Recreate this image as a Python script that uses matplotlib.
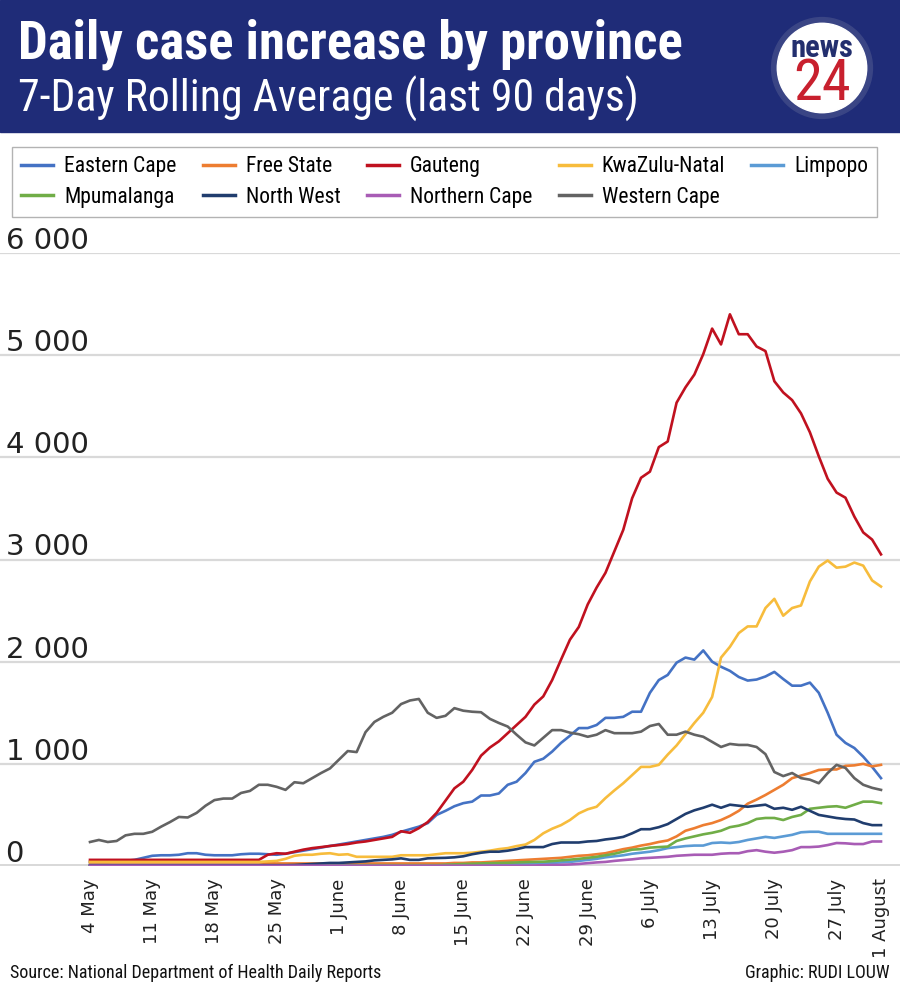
import matplotlib.pyplot as plt
import numpy as np
from matplotlib import font_manager
from matplotlib.patches import Rectangle, Circle

# fonts: try to find a condensed face for the header/legend
names = {f.name for f in font_manager.fontManager.ttflist}
COND = 'DejaVu Sans'
for cand in ['Roboto Condensed', 'Liberation Sans Narrow', 'Open Sans Condensed', 'Noto Sans Condensed']:
    if cand in names:
        COND = cand
        break
plt.rcParams['font.family'] = [COND, 'DejaVu Sans']

# data: 7-day rolling average, 4 May .. 1 August (90 days)
eastern_cape = [40, 40, 40, 45, 50, 60, 80, 100, 105, 105,
                110, 125, 125, 110, 105, 105, 105, 115, 120, 120,
                115, 110, 120, 135, 150, 165, 180, 196, 210, 225,
                240, 255, 270, 285, 305, 335, 360, 385, 420, 500,
                540, 585, 615, 630, 690, 690, 710, 795, 825, 910,
                1020, 1050, 1120, 1205, 1275, 1350, 1350, 1380, 1450, 1450,
                1460, 1510, 1510, 1695, 1820, 1870, 1990, 2040, 2020, 2110,
                2000, 1950, 1910, 1850, 1815, 1825, 1855, 1900, 1830, 1765,
                1765, 1795, 1695, 1500, 1285, 1205, 1155, 1070, 970, 860]
free_state = [35, 35, 35, 35, 35, 35, 35, 35, 35, 35,
              35, 35, 35, 35, 35, 35, 35, 35, 35, 35,
              30, 25, 25, 25, 25, 25, 25, 25, 25, 25,
              25, 25, 25, 25, 25, 25, 25, 25, 25, 25,
              25, 30, 30, 35, 35, 40, 45, 50, 55, 60,
              65, 70, 75, 80, 90, 100, 105, 115, 125, 145,
              165, 180, 200, 215, 235, 250, 290, 345, 370, 400,
              420, 450, 490, 540, 610, 650, 695, 745, 795, 860,
              885, 910, 940, 945, 945, 980, 985, 1000, 975, 990]
gauteng = [60, 60, 60, 60, 60, 60, 60, 60, 60, 60,
           60, 60, 60, 60, 60, 60, 60, 60, 60, 60,
           110, 125, 120, 140, 160, 175, 185, 196, 205, 215,
           230, 240, 255, 270, 285, 340, 325, 370, 430, 520,
           640, 760, 825, 940, 1080, 1160, 1220, 1300, 1380, 1460,
           1580, 1660, 1820, 2020, 2215, 2340, 2560, 2725, 2870, 3080,
           3290, 3600, 3800, 3860, 4100, 4155, 4535, 4685, 4810, 5010,
           5260, 5105, 5400, 5205, 5205, 5085, 5040, 4745, 4635, 4560,
           4430, 4245, 4010, 3790, 3655, 3605, 3420, 3265, 3195, 3050]
kwazulu_natal = [40, 40, 40, 40, 40, 40, 40, 40, 40, 40,
                 40, 40, 40, 40, 40, 40, 40, 40, 40, 40,
                 45, 50, 70, 100, 110, 110, 120, 125, 110, 115,
                 90, 90, 90, 90, 90, 105, 105, 105, 105, 115,
                 125, 125, 125, 130, 140, 150, 165, 175, 195, 210,
                 255, 320, 365, 400, 450, 515, 555, 580, 665, 740,
                 810, 890, 970, 970, 990, 1090, 1180, 1290, 1400, 1500,
                 1655, 2040, 2145, 2280, 2345, 2345, 2525, 2615, 2450, 2525,
                 2550, 2785, 2930, 2990, 2920, 2930, 2970, 2940, 2795, 2735]
limpopo = [5, 5, 5, 5, 5, 5, 5, 5, 5, 5,
           5, 5, 5, 5, 5, 5, 5, 5, 5, 5,
           5, 5, 5, 5, 5, 5, 5, 5, 5, 5,
           5, 5, 5, 5, 5, 5, 5, 5, 5, 5,
           8, 10, 10, 10, 12, 12, 15, 18, 20, 22,
           25, 28, 30, 35, 40, 50, 60, 70, 85, 95,
           105, 120, 130, 140, 155, 175, 185, 195, 200, 200,
           225, 230, 225, 235, 255, 270, 285, 275, 290, 305,
           330, 335, 335, 315, 315, 315, 315, 315, 315, 315]
mpumalanga = [5, 5, 5, 5, 5, 5, 5, 5, 5, 5,
              5, 5, 5, 5, 5, 5, 5, 5, 5, 5,
              5, 5, 5, 5, 5, 5, 5, 5, 5, 5,
              8, 8, 8, 8, 8, 8, 8, 8, 8, 8,
              12, 15, 20, 22, 25, 28, 30, 32, 35, 38,
              40, 42, 48, 55, 62, 70, 80, 90, 105, 120,
              140, 160, 165, 180, 185, 190, 245, 270, 290, 310,
              325, 345, 380, 395, 420, 460, 470, 470, 450, 480,
              500, 560, 570, 580, 585, 570, 600, 630, 630, 615]
north_west = [8, 8, 8, 8, 8, 8, 8, 8, 8, 8,
              8, 8, 8, 8, 8, 8, 8, 8, 8, 8,
              8, 8, 8, 10, 15, 20, 25, 30, 30, 35,
              40, 45, 55, 60, 65, 75, 60, 60, 75, 78,
              80, 85, 95, 115, 130, 140, 140, 150, 165, 185,
              185, 185, 215, 230, 230, 230, 240, 245, 260, 270,
              285, 320, 360, 360, 380, 410, 460, 510, 545, 570,
              600, 570, 600, 590, 580, 590, 600, 560, 570, 550,
              580, 540, 500, 485, 470, 460, 455, 420, 400, 400]
northern_cape = [3, 3, 3, 3, 3, 3, 3, 3, 3, 3,
                 3, 3, 3, 3, 3, 3, 3, 3, 3, 3,
                 3, 3, 3, 3, 3, 3, 3, 3, 3, 3,
                 3, 3, 3, 3, 3, 3, 3, 3, 3, 3,
                 3, 3, 3, 3, 3, 3, 3, 3, 3, 3,
                 5, 8, 10, 12, 15, 20, 28, 35, 40, 50,
                 58, 65, 75, 80, 85, 90, 100, 105, 110, 110,
                 110, 120, 125, 125, 145, 155, 140, 130, 140, 155,
                 185, 185, 190, 205, 225, 222, 215, 215, 240, 240]
western_cape = [235, 255, 235, 245, 300, 315, 315, 335, 385, 430,
                480, 475, 520, 590, 645, 660, 660, 715, 735, 795,
                795, 775, 745, 820, 810, 860, 910, 955, 1040, 1125,
                1115, 1310, 1410, 1460, 1500, 1585, 1620, 1635, 1500, 1450,
                1470, 1545, 1520, 1510, 1505, 1440, 1400, 1365, 1285, 1210,
                1180, 1255, 1330, 1330, 1305, 1290, 1265, 1285, 1330, 1300,
                1300, 1300, 1315, 1370, 1390, 1285, 1285, 1315, 1285, 1265,
                1215, 1165, 1195, 1185, 1185, 1165, 1095, 920, 880, 910,
                860, 845, 810, 910, 990, 960, 860, 795, 765, 745]

provinces = ['Eastern Cape', 'Free State', 'Gauteng', 'KwaZulu-Natal', 'Limpopo',
             'Mpumalanga', 'North West', 'Northern Cape', 'Western Cape']
series = [eastern_cape, free_state, gauteng, kwazulu_natal, limpopo,
          mpumalanga, north_west, northern_cape, western_cape]
colors = ['#4472C4', '#ED7D31', '#C0111F', '#F7BC3C', '#5B9BD5',
          '#70AD47', '#203D6E', '#A85CB5', '#636363']

tick_days = [0, 7, 14, 21, 28, 35, 42, 49, 56, 63, 70, 77, 84, 89]
tick_labels = ['4 May', '11 May', '18 May', '25 May', '1 June', '8 June', '15 June',
               '22 June', '29 June', '6 July', '13 July', '20 July', '27 July', '1 August']
y_ticks = [0, 1000, 2000, 3000, 4000, 5000, 6000]
y_labels = ['0', '1 000', '2 000', '3 000', '4 000', '5 000', '6 000']

W, H = 900, 986
fig = plt.figure(figsize=(W / 100, H / 100), dpi=100)

def fx(px):
    return px / W

def fy(py):
    return 1 - py / H

# header band (kept below the logo axes)
navy = '#1F2C78'
fig.patches.append(Rectangle((0, fy(132)), 1, 132 / H, transform=fig.transFigure,
                             color=navy, zorder=-5))
fig.text(fx(18), fy(58), 'Daily case increase by province', fontsize=38,
         fontweight='bold', color='white', va='baseline')
fig.text(fx(18), fy(112), '7-Day Rolling Average (last 90 days)', fontsize=31.5,
         color='white', va='baseline')

# news24 logo
lax = fig.add_axes([fx(770), fy(120), 104 / W, 104 / H])
lax.set_zorder(5)
lax.set_xlim(-1, 1)
lax.set_ylim(-1, 1)
lax.set_aspect('equal')
lax.axis('off')
lax.add_patch(Circle((0, 0), 0.97, color='#3A4585'))
disc = Circle((0, 0), 0.86, color='white')
lax.add_patch(disc)
grad = np.linspace(0, 1, 100).reshape(-1, 1)
im = lax.imshow(grad, extent=(-1, 1, -1, 1), origin='upper', cmap='Greys',
                vmin=-2.5, vmax=4, aspect='auto')
im.set_clip_path(disc)
lax.text(0, 0.22, 'news', ha='center', va='baseline', fontsize=22, fontweight='bold',
         color='#232F6E')
lax.text(0, -0.62, '24', ha='center', va='baseline', fontsize=42, color='#C8202E')

# main chart
ax = fig.add_axes([0, fy(866), 1, (866 - 253) / H])
px_per_day = 8.888
ax.set_xlim(-90 / px_per_day, 89 + 19 / px_per_day)
ax.set_ylim(0, 6000)
for s in ax.spines.values():
    s.set_visible(False)

days = np.arange(len(gauteng))
lines = []
for name, vals, c in zip(provinces, series, colors):
    ln, = ax.plot(days, vals, color=c, lw=1.9, label=name, zorder=3)
    lines.append(ln)

ax.set_yticks(y_ticks)
ax.set_yticklabels([])
ax.tick_params(axis='y', length=0)
ax.grid(axis='y', color='#D9D9D9', lw=1.6, zorder=0)
ax.axhline(0, color='#D0D0D0', lw=2.6, zorder=1)
for v, lab in zip(y_ticks, y_labels):
    ax.annotate(lab, xy=(0, v), xycoords=('axes fraction', 'data'),
                xytext=(4, 3), textcoords='offset points', ha='left', va='baseline',
                fontsize=21, family='DejaVu Sans', color='#222222')

ax.set_xticks(tick_days)
ax.set_xticklabels(tick_labels, rotation=90, family='DejaVu Sans', fontsize=13,
                   color='#222222')
ax.tick_params(axis='x', length=0, pad=9)

# legend, filled row by row like the original
order = [0, 5, 1, 6, 2, 7, 3, 8, 4]
leg = fig.legend([lines[i] for i in order], [provinces[i] for i in order], ncol=5,
                 loc='upper left', bbox_to_anchor=(fx(12), fy(147)), fontsize=15.5,
                 frameon=True, fancybox=False, edgecolor='#A0A0A0',
                 handlelength=1.5, handletextpad=0.5, columnspacing=1.22,
                 labelspacing=0.45, borderpad=0.42, borderaxespad=0)
leg.get_frame().set_linewidth(1.0)
for ln in leg.get_lines():
    ln.set_linewidth(2.5)

fig.text(fx(10), fy(978), 'Source: National Department of Health Daily Reports',
         fontsize=13, va='baseline', color='#111111')
fig.text(fx(890), fy(978), 'Graphic: RUDI LOUW', fontsize=13, va='baseline',
         ha='right', color='#111111')

fig.savefig('out.png', dpi=100)
